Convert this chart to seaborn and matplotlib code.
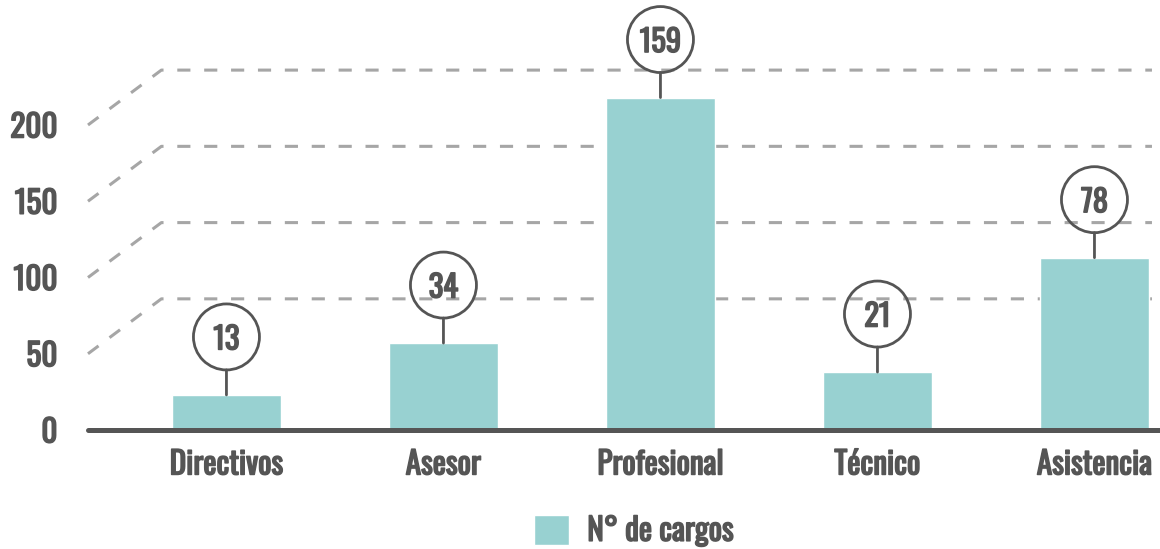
import matplotlib
matplotlib.use("Agg")
import matplotlib.pyplot as plt
from matplotlib import font_manager, transforms
import matplotlib.patheffects as pe
import seaborn as sns
import pandas as pd

# ---- data ----
categorias = ["Directivos", "Asesor", "Profesional", "Técnico", "Asistencia"]
altura_barras = [23, 57, 218, 38, 113]      # bar heights as read on the axis
etiquetas = [13, 34, 159, 21, 78]           # values written in the circles
ticks_y = [0, 50, 100, 150, 200]
serie = "N° de cargos"

# ---- style ----
TEAL = "#98d1d1"
DARK = "#555555"
GRID = "#a6a6a6"

sns.set_theme(style="white")
avail = {f.name for f in font_manager.fontManager.ttflist}
fam = None
for cand in ["Oswald", "Roboto Condensed", "Liberation Sans Narrow", "Open Sans Condensed"]:
    if cand in avail:
        fam = cand
        break
if fam is None:
    fam = "Roboto"
plt.rcParams["font.family"] = [fam, "DejaVu Sans"]

BOLD = [pe.withStroke(linewidth=1.1, foreground=DARK)]

W, H = 1160, 549
fig = plt.figure(figsize=(W / 100, H / 100), dpi=100)
ax_left, ax_right, ax_base, ax_top = 88, 1160, 430, 3
ax = fig.add_axes([ax_left / W, (H - ax_base) / H, (ax_right - ax_left) / W, (ax_base - ax_top) / H])

df = pd.DataFrame({"cargo": categorias, "valor": altura_barras})
sns.barplot(data=df, x="cargo", y="valor", color=TEAL, width=0.5, ax=ax,
            label=serie, saturation=1, zorder=3)
if ax.get_legend() is not None:
    ax.get_legend().remove()

ax.set_xlim(-0.638, 4.302)
ax.set_ylim(0, 280)
for s in ax.spines.values():
    s.set_visible(False)
ax.set_xlabel("")
ax.set_ylabel("")
ax.set_yticks(ticks_y)
ax.set_yticklabels([str(t) for t in ticks_y])
ax.tick_params(axis="y", length=0, pad=22, labelsize=22.5, labelcolor=DARK)
ax.tick_params(axis="x", length=0, pad=14, labelsize=22.5, labelcolor=DARK)
for lab in ax.get_xticklabels() + ax.get_yticklabels():
    lab.set_fontweight("bold")
    lab.set_path_effects(BOLD)

# baseline
ax.axhline(0, color=DARK, lw=3.6, zorder=4, clip_on=False)

# perspective dashed grid
depth = 36
x0 = ax.get_xlim()[0]
x_corner = -0.30
x_end = (1152 - 226.5) / 217
for v in ticks_y[1:]:
    ax.plot([x0, x_corner, x_end], [v, v + depth, v + depth], color=GRID, lw=2.2,
            linestyle=(0, (4.3, 4.5)), zorder=1, clip_on=False)

# circle labels
off_px = 58
r_px = 33
circ_tr = transforms.offset_copy(ax.transData, fig=fig, x=0, y=off_px, units="dots")
xs = list(range(len(categorias)))
ax.scatter(xs, altura_barras, s=(2 * r_px * 0.72) ** 2, facecolor="none", edgecolor=DARK,
           linewidths=2.0, transform=circ_tr, zorder=5, clip_on=False)
for i, (h, lab) in enumerate(zip(altura_barras, etiquetas)):
    ax.text(i, h, str(lab), transform=circ_tr, ha="center", va="center_baseline",
            fontsize=22, fontweight="bold", color=DARK, zorder=6, clip_on=False,
            path_effects=BOLD)
    ax.annotate("", xy=(i, h), xytext=(0, off_px - r_px), textcoords="offset pixels",
                arrowprops=dict(arrowstyle="-", color=DARK, lw=2.0, shrinkA=0, shrinkB=0),
                zorder=5, annotation_clip=False)

# legend
handles, labels = ax.get_legend_handles_labels()
leg = fig.legend(handles, labels, loc="center", bbox_to_anchor=(634 / W, 1 - 531 / H),
                 frameon=False, fontsize=22.5, handlelength=1.1, handleheight=1.1,
                 handletextpad=0.6, borderaxespad=0, borderpad=0)
for t in leg.get_texts():
    t.set_color(DARK)
    t.set_fontweight("bold")
    t.set_path_effects(BOLD)

fig.savefig("out.png", dpi=100, facecolor="white")
